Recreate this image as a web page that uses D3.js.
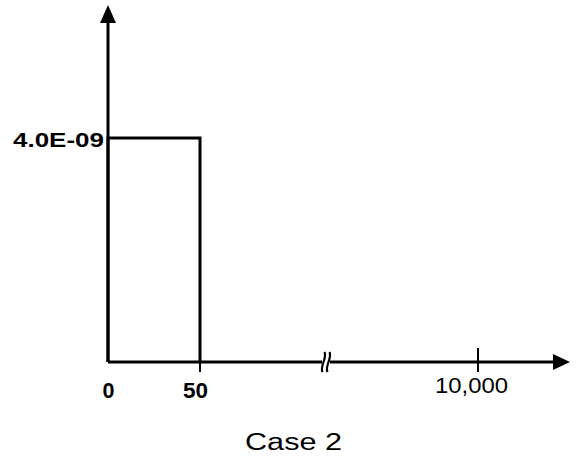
<!DOCTYPE html>
<html>
<head>
<meta charset="utf-8">
<script src="https://cdn.jsdelivr.net/npm/d3@7"></script>
<style>
  html, body { margin: 0; padding: 0; background: #fff; }
  svg { display: block; }
</style>
</head>
<body>
<svg id="chart" width="578" height="466"></svg>
<script>
// Step-shaped pulse: constant rate from 0 to 50, then zero.
const stepX = [0, 0, 50, 50];
const stepY = [0, 4.0e-9, 4.0e-9, 0];

const xTicks = [0, 50, 10000];
const xTickLabels = ["0", "50", "10,000"];
const yTicks = [4.0e-9];
const yTickLabels = ["4.0E-09"];
const caption = "Case 2";

const svg = d3.select("#chart");
const ink = "#000";
const font = "Liberation Sans, Arial, Helvetica, sans-serif";

// Piecewise x scale: linear up to 50, then compressed past the axis break.
const x = d3.scaleLinear().domain([0, 50, 10000]).range([108, 200, 478]);
const y = d3.scaleLinear().domain([0, 4.0e-9]).range([362, 138]);

const x0 = x(0), y0 = y(0);
const xEnd = 570, yEnd = 5;

// Axes lines
svg.append("line").attr("x1", x0).attr("y1", y0).attr("x2", xEnd - 14).attr("y2", y0)
  .attr("stroke", ink).attr("stroke-width", 3);
svg.append("line").attr("x1", x0).attr("y1", y0).attr("x2", x0).attr("y2", yEnd + 14)
  .attr("stroke", ink).attr("stroke-width", 3);

// Arrow heads
svg.append("path")
  .attr("d", `M${xEnd},${y0} L${xEnd - 17},${y0 - 8} L${xEnd - 17},${y0 + 8} Z`)
  .attr("fill", ink);
svg.append("path")
  .attr("d", `M${x0},${yEnd} L${x0 - 8},${yEnd + 18} L${x0 + 8},${yEnd + 18} Z`)
  .attr("fill", ink);

// Axis break marks
const bx = 326;
svg.append("rect").attr("x", bx - 4).attr("y", y0 - 3).attr("width", 8).attr("height", 6).attr("fill", "#fff");
[-2.5, 2.5].forEach(dx => {
  svg.append("path")
    .attr("d", `M${bx + dx + 1},${y0 - 10} C${bx + dx + 4},${y0 - 4} ${bx + dx - 4},${y0 + 4} ${bx + dx - 1},${y0 + 10}`)
    .attr("fill", "none").attr("stroke", ink).attr("stroke-width", 2.2);
});

// Tick marks on x axis
[50, 10000].forEach(v => {
  svg.append("line").attr("x1", x(v)).attr("x2", x(v))
    .attr("y1", v === 10000 ? y0 - 14 : y0).attr("y2", y0 + 10)
    .attr("stroke", ink).attr("stroke-width", 2);
});

// Step line
const line = d3.line().x((d, i) => x(stepX[i])).y((d, i) => y(stepY[i]));
svg.append("path").datum(stepX).attr("d", line)
  .attr("fill", "none").attr("stroke", ink).attr("stroke-width", 3);

// Tick labels (wide typeface, stretched to the drawn widths)
const xLabelStyle = {
  0: { dx: 0.5, base: 398, size: 22, weight: "bold", len: 12 },
  50: { dx: -4.5, base: 398, size: 22, weight: "bold", len: 25 },
  10000: { dx: -6.5, base: 393, size: 22, weight: "normal", len: 73 }
};
xTicks.forEach((v, i) => {
  const s = xLabelStyle[v];
  svg.append("text")
    .attr("x", x(v) + s.dx)
    .attr("y", s.base)
    .attr("text-anchor", "middle")
    .attr("font-family", font)
    .attr("font-size", s.size)
    .attr("font-weight", s.weight)
    .attr("textLength", s.len)
    .attr("lengthAdjust", "spacingAndGlyphs")
    .attr("fill", ink)
    .text(xTickLabels[i]);
});
yTicks.forEach((v, i) => {
  svg.append("text")
    .attr("x", x0 - 4).attr("y", y(v) + 9)
    .attr("text-anchor", "end")
    .attr("font-family", font)
    .attr("font-size", 20).attr("font-weight", "bold")
    .attr("textLength", 91)
    .attr("lengthAdjust", "spacingAndGlyphs")
    .attr("fill", ink)
    .text(yTickLabels[i]);
});

// Caption
svg.append("text")
  .attr("x", 293.5).attr("y", 450)
  .attr("text-anchor", "middle")
  .attr("font-family", font)
  .attr("font-size", 23)
  .attr("textLength", 97)
  .attr("lengthAdjust", "spacingAndGlyphs")
  .attr("fill", ink)
  .text(caption);
</script>
</body>
</html>
